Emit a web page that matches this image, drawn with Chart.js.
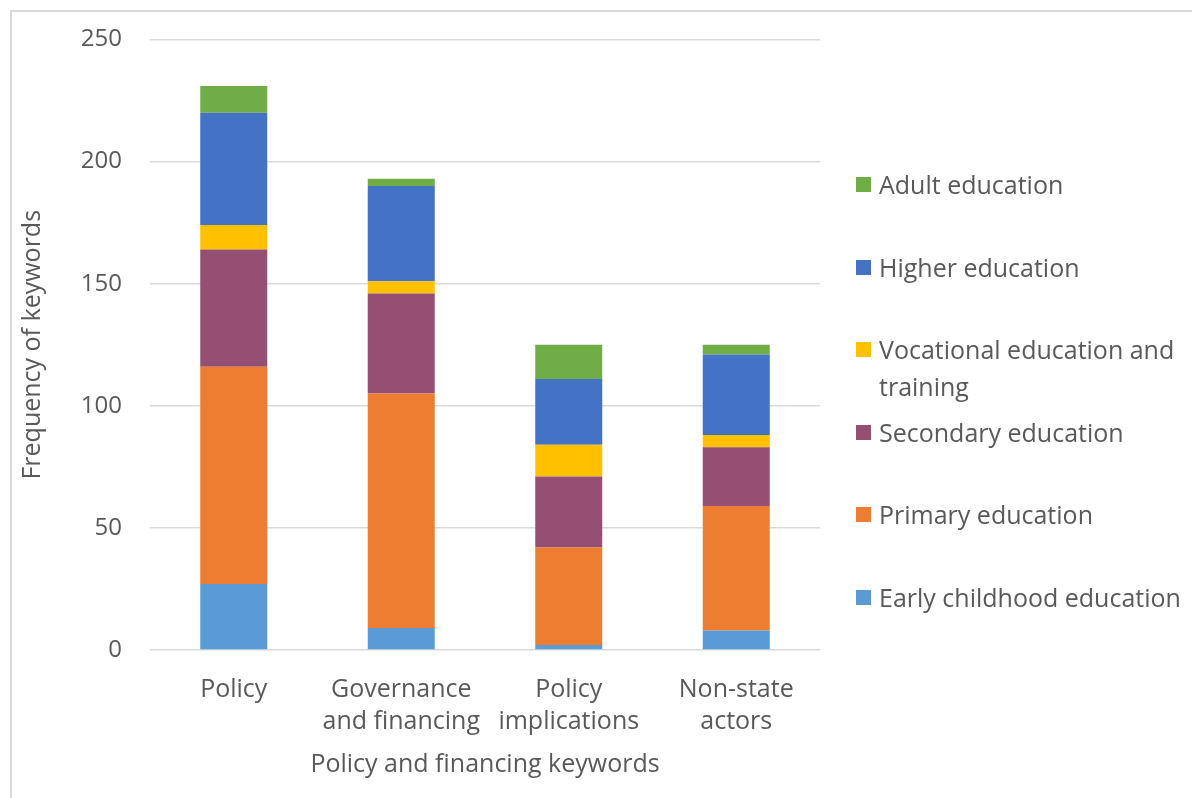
<!DOCTYPE html>
<html>
<head>
<meta charset="utf-8">
<script src="https://cdn.jsdelivr.net/npm/chart.js@4.4.1/dist/chart.umd.min.js"></script>
<style>
  html, body { margin: 0; padding: 0; background: #fff; overflow: hidden; }
  #wrap { position: relative; width: 1192px; height: 798px; font-family: "Open Sans", sans-serif; }
  #frame { position: absolute; left: 10px; top: 10px; width: 1200px; height: 800px; border: 2px solid #d9d9d9; box-sizing: border-box; }
  #legend { position: absolute; left: 856px; top: 166px; margin: 0; padding: 0; list-style: none; color: #595959; font-size: 25px; }
  #legend li { position: relative; height: 82.6px; padding-left: 23px; line-height: 37px; }
  #legend li span { position: absolute; left: 0; top: 11px; width: 15px; height: 15px; }
</style>
</head>
<body>
<div id="wrap">
  <div id="frame"></div>
  <canvas id="chart" width="1192" height="798"></canvas>
  <ul id="legend"></ul>
</div>
<script>
const categories = ['Policy', ['Governance', 'and financing'], ['Policy', 'implications'], ['Non-state', 'actors']];
const seriesNames = ['Early childhood education', 'Primary education', 'Secondary education', 'Vocational education and training', 'Higher education', 'Adult education'];
const seriesColors = ['#5B9BD5', '#ED7D31', '#954F72', '#FFC000', '#4472C4', '#70AD47'];

// values per keyword group: Policy, Governance and financing, Policy implications, Non-state actors
const earlyChildhood = [27, 9, 2, 8];
const primary = [89, 96, 40, 51];
const secondary = [48, 41, 29, 24];
const vocational = [10, 5, 13, 5];
const higher = [46, 39, 27, 33];
const adult = [11, 3, 14, 4];

const yTicks = [0, 50, 100, 150, 200, 250];

const seriesValues = [earlyChildhood, primary, secondary, vocational, higher, adult];
const textColor = '#595959';

const chart = new Chart(document.getElementById('chart'), {
  type: 'bar',
  data: {
    labels: categories,
    datasets: seriesNames.map((name, i) => ({
      label: name,
      data: seriesValues[i],
      backgroundColor: seriesColors[i],
      borderWidth: 0,
      categoryPercentage: 1,
      barPercentage: 0.4
    }))
  },
  options: {
    responsive: false,
    animation: false,
    layout: { padding: { left: 12, right: 372, top: 39.5, bottom: 0 } },
    plugins: { legend: { display: false }, tooltip: { enabled: false } },
    scales: {
      x: {
        stacked: true,
        afterFit: (scale) => { scale.height = 148; },
        grid: { display: false },
        border: { display: false },
        ticks: {
          color: textColor,
          padding: 16,
          maxRotation: 0,
          autoSkip: false,
          font: { family: 'Open Sans', size: 25, lineHeight: 1.28 }
        },
        title: {
          display: true,
          text: 'Policy and financing keywords',
          color: textColor,
          font: { family: 'Open Sans', size: 25 },
          padding: { top: 0, bottom: 18 }
        }
      },
      y: {
        stacked: true,
        min: 0,
        max: 250,
        afterFit: (scale) => { scale.width = 138; },
        afterBuildTicks: (scale) => { scale.ticks = yTicks.map(v => ({ value: v })); },
        // invisible tick marks keep the labels away from the plot without pushing the top down
        grid: { color: '#d9d9d9', lineWidth: 1.5, drawTicks: true, tickLength: 20, tickColor: 'rgba(0,0,0,0)' },
        border: { display: false },
        ticks: {
          color: textColor,
          padding: 8,
          font: { family: 'Open Sans', size: 24 }
        },
        title: {
          display: true,
          text: 'Frequency of keywords',
          color: textColor,
          font: { family: 'Open Sans', size: 25 },
          padding: { top: 6, bottom: 0 }
        }
      }
    }
  }
});

// legend on the right, top entry is the top of the stack
const legendEl = document.getElementById('legend');
seriesNames.map((name, i) => i).reverse().forEach(i => {
  const li = document.createElement('li');
  let text = seriesNames[i];
  if (i === 3) text = 'Vocational education and<br>training';
  li.innerHTML = `<span style="background:${seriesColors[i]}"></span>${text}`;
  legendEl.appendChild(li);
});
</script>
</body>
</html>
